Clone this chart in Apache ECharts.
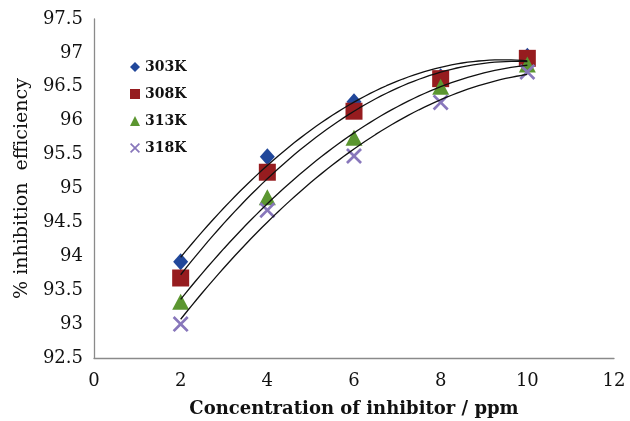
<!DOCTYPE html>
<html><head><meta charset="utf-8">
<script src="https://cdn.jsdelivr.net/npm/echarts@6/dist/echarts.min.js"></script>
<style>html,body{margin:0;padding:0;background:#fff}#c{width:630px;height:421px}</style>
</head><body><div id="c"></div>
<script>
var concentrations = [2, 4, 6, 8, 10];
var seriesNames = ['303K', '308K', '313K', '318K'];
var ie303 = [93.92, 95.47, 96.28, 96.65, 96.95];
var ie308 = [93.68, 95.24, 96.14, 96.62, 96.92];
var ie313 = [93.33, 94.87, 95.75, 96.50, 96.83];
var ie318 = [93.00, 94.68, 95.48, 96.27, 96.72];
var xTicks = [0, 2, 4, 6, 8, 10, 12];

var values = [ie303, ie308, ie313, ie318];
var colors = ['#21479a', '#961c1f', '#5b9630', '#8877bb'];
var symbols = ['diamond', 'rect', 'triangle',
  'path://M0,1.2L1.2,0L5,3.8L8.8,0L10,1.2L6.2,5L10,8.8L8.8,10L5,6.2L1.2,10L0,8.8L3.8,5Z'];
var sizes = [[15, 17], [17, 17], [17, 16], [16, 16]];
var font = '"DejaVu Serif", "Liberation Serif", serif';

function pairs(arr) { return concentrations.map(function (x, i) { return [x, arr[i]]; }); }

// polynomial (order 2) trendline, least squares, as in the original spreadsheet chart
function quadFit(xs, ys) {
  var n = xs.length, s = [0, 0, 0, 0, 0], t = [0, 0, 0];
  for (var i = 0; i < n; i++) {
    var p = 1;
    for (var k = 0; k < 5; k++) { s[k] += p; if (k < 3) t[k] += p * ys[i]; p *= xs[i]; }
  }
  var A = [[s[0], s[1], s[2], t[0]], [s[1], s[2], s[3], t[1]], [s[2], s[3], s[4], t[2]]];
  for (var c = 0; c < 3; c++) {
    for (var r = c + 1; r < 3; r++) {
      var f = A[r][c] / A[c][c];
      for (var j = c; j < 4; j++) A[r][j] -= f * A[c][j];
    }
  }
  var b = [0, 0, 0];
  for (var r2 = 2; r2 >= 0; r2--) {
    var sum = A[r2][3];
    for (var j2 = r2 + 1; j2 < 3; j2++) sum -= A[r2][j2] * b[j2];
    b[r2] = sum / A[r2][r2];
  }
  return b;
}
function trend(arr) {
  var b = quadFit(concentrations, arr), out = [];
  var x0 = concentrations[0], x1 = concentrations[concentrations.length - 1];
  for (var k = 0; k <= 64; k++) {
    var x = x0 + (x1 - x0) * k / 64;
    out.push([x, b[0] + b[1] * x + b[2] * x * x]);
  }
  return out;
}

var series = [];
values.forEach(function (v, i) {
  series.push({
    name: seriesNames[i], type: 'scatter', data: pairs(v),
    symbol: symbols[i], symbolSize: sizes[i],
    itemStyle: { color: colors[i], opacity: 1 }, z: 2 + i
  });
});
values.forEach(function (v, i) {
  series.push({
    name: 'trend' + i, type: 'line', data: trend(v), smooth: false,
    showSymbol: false, silent: true,
    lineStyle: { color: '#111', width: 1.3 }, z: 10
  });
});

var chart = echarts.init(document.getElementById('c'));
chart.setOption({
  animation: false,
  backgroundColor: '#fff',
  grid: { left: 94, right: 16, top: 19, bottom: 63, outerBoundsMode: 'none', containLabel: false },
  legend: {
    data: seriesNames.map(function (n, i) { return { name: n, icon: symbols[i] }; }),
    orient: 'vertical', left: 125, top: 55, itemGap: 13,
    itemWidth: 10, itemHeight: 10,
    textStyle: { fontFamily: font, fontWeight: 'bold', fontSize: 14, color: '#111' }
  },
  xAxis: {
    type: 'value', min: 0, max: 12, interval: 2,
    name: 'Concentration of inhibitor / ppm', nameLocation: 'middle', nameGap: 42,
    nameTextStyle: { fontFamily: font, fontWeight: 'bold', fontSize: 18, color: '#111' },
    axisLine: { lineStyle: { color: '#8a8a8a', width: 1.3 } },
    axisTick: { show: false },
    splitLine: { show: false },
    axisLabel: { fontFamily: font, fontSize: 18, color: '#111', margin: 14,
      formatter: function (v) { return xTicks.indexOf(v) >= 0 ? String(v) : ''; } }
  },
  yAxis: {
    type: 'value', min: 92.5, max: 97.5, interval: 0.5,
    name: '% inhibition  efficiency', nameLocation: 'middle', nameGap: 60,
    nameTextStyle: { fontFamily: font, fontSize: 19, color: '#111' },
    axisLine: { show: true, lineStyle: { color: '#8a8a8a', width: 1.3 } },
    axisTick: { show: false },
    splitLine: { show: false },
    axisLabel: { fontFamily: font, fontSize: 18, color: '#111', margin: 11 }
  },
  series: series
});
</script></body></html>
